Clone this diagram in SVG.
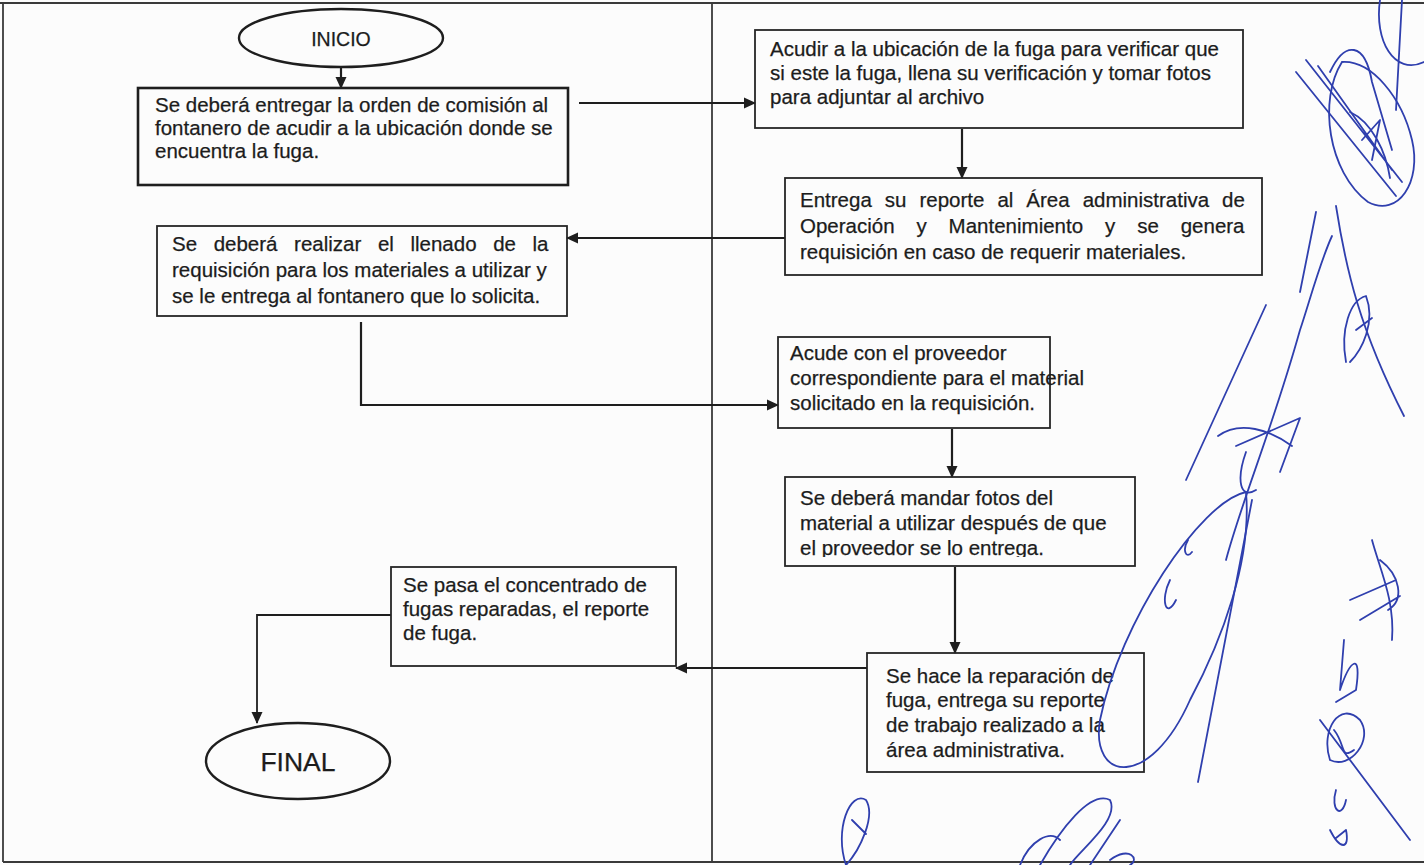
<svg xmlns="http://www.w3.org/2000/svg" width="1424" height="865" viewBox="0 0 1424 865">
<defs>
<style>
.frame{fill:none;stroke:#3a3a3a;stroke-width:1.8}
.box{fill:none;stroke:#262626;stroke-width:1.8}
.boxb{fill:none;stroke:#1e1e1e;stroke-width:2.6}
.term{fill:none;stroke:#1e1e1e;stroke-width:2.4}
.t{font-family:"Liberation Sans",Arial,sans-serif;font-size:20.5px;fill:#1c1c1c;stroke:#1c1c1c;stroke-width:0.25}
.tc{font-family:"Liberation Sans",Arial,sans-serif;fill:#1c1c1c;stroke:#1c1c1c;stroke-width:0.25;text-anchor:middle}
.con{fill:none;stroke:#1e1e1e;stroke-width:2.2}
.sig{fill:none;stroke:#2f3fae;stroke-width:1.8;stroke-linecap:round;stroke-linejoin:round}
</style>
<marker id="ah" viewBox="0 0 12 12" refX="11" refY="6" markerWidth="12" markerHeight="12" markerUnits="userSpaceOnUse" orient="auto">
<path d="M0,0.5 L12,6 L0,11.5 Z" fill="#1e1e1e"/>
</marker>
<clipPath id="clip6"><rect x="785" y="477" width="350" height="80"/></clipPath>
</defs>
<rect x="0" y="0" width="1424" height="865" fill="#fcfcfc"/>
<g id="frame">
<line class="frame" x1="0" y1="3" x2="1424" y2="3"/>
<line class="frame" x1="3" y1="3" x2="3" y2="862"/>
<line class="frame" x1="712" y1="3" x2="712" y2="862"/>
<line class="frame" x1="3" y1="862" x2="1424" y2="862"/>
</g>
<g id="connectors">
<line class="con" x1="341" y1="67" x2="341" y2="88" marker-end="url(#ah)"/>
<line class="con" x1="579" y1="103" x2="755" y2="103" marker-end="url(#ah)"/>
<line class="con" x1="962" y1="129" x2="962" y2="178" marker-end="url(#ah)"/>
<line class="con" x1="785" y1="238" x2="567" y2="238" marker-end="url(#ah)"/>
<polyline class="con" points="361,322 361,405 778,405" marker-end="url(#ah)"/>
<line class="con" x1="952" y1="429" x2="952" y2="477" marker-end="url(#ah)"/>
<line class="con" x1="955" y1="567" x2="955" y2="653" marker-end="url(#ah)"/>
<line class="con" x1="867" y1="668" x2="676" y2="668" marker-end="url(#ah)"/>
<polyline class="con" style="stroke-width:1.8" points="391,615 257,615 257,723" marker-end="url(#ah)"/>
</g>
<g id="inicio">
<ellipse class="term" cx="341" cy="38" rx="102" ry="29"/>
<text class="tc" x="341" y="46" font-size="19.5">INICIO</text>
</g>
<g id="box1">
<rect class="boxb" x="138" y="88" width="430" height="97"/>
<text class="t"><tspan x="155" y="112">Se deberá entregar la orden de comisión al</tspan><tspan x="155" y="135">fontanero de acudir a la ubicación donde se</tspan><tspan x="155" y="158">encuentra la fuga.</tspan></text>
</g>
<g id="box2">
<rect class="box" x="755" y="30" width="488" height="98"/>
<text class="t"><tspan x="770" y="56">Acudir a la ubicación de la fuga para verificar que</tspan><tspan x="770" y="80">si este la fuga, llena su verificación y tomar fotos</tspan><tspan x="770" y="104">para adjuntar al archivo</tspan></text>
</g>
<g id="box3">
<rect class="box" x="785" y="178" width="477" height="97"/>
<text class="t" x="800" y="207" style="word-spacing:7.3px">Entrega su reporte al Área administrativa de</text>
<text class="t" x="800" y="233" style="word-spacing:16.2px">Operación y Mantenimiento y se genera</text>
<text class="t" x="800" y="259">requisición en caso de requerir materiales.</text>
</g>
<g id="box4">
<rect class="box" x="157" y="226" width="410" height="90"/>
<text class="t" x="172" y="251" style="word-spacing:10.9px">Se deberá realizar el llenado de la</text>
<text class="t" x="172" y="277">requisición para los materiales a utilizar y</text>
<text class="t" x="172" y="303">se le entrega al fontanero que lo solicita.</text>
</g>
<g id="box5">
<rect class="box" x="778" y="337" width="272" height="91"/>
<text class="t"><tspan x="790" y="360">Acude con el proveedor</tspan><tspan x="790" y="385">correspondiente para el material</tspan><tspan x="790" y="410">solicitado en la requisición.</tspan></text>
</g>
<g id="box6">
<rect class="box" x="785" y="477" width="350" height="89"/>
<text class="t" clip-path="url(#clip6)"><tspan x="800" y="505">Se deberá mandar fotos del</tspan><tspan x="800" y="530">material a utilizar después de que</tspan><tspan x="800" y="555">el proveedor se lo entrega.</tspan></text>
</g>
<g id="box7">
<rect class="box" x="867" y="653" width="277" height="119"/>
<text class="t"><tspan x="886" y="683">Se hace la reparación de</tspan><tspan x="886" y="707">fuga, entrega su reporte</tspan><tspan x="886" y="732">de trabajo realizado a la</tspan><tspan x="886" y="757">área administrativa.</tspan></text>
</g>
<g id="box8">
<rect class="box" x="391" y="567" width="285" height="99"/>
<text class="t"><tspan x="403" y="592">Se pasa el concentrado de</tspan><tspan x="403" y="616">fugas reparadas, el reporte</tspan><tspan x="403" y="640">de fuga.</tspan></text>
</g>
<g id="final">
<ellipse class="term" cx="298" cy="761" rx="92" ry="38"/>
<text class="tc" x="298" y="771" font-size="26.5">FINAL</text>
</g>
<g id="signatures">
<path class="sig" d="M1342,62 C1318,100 1328,172 1368,202 C1398,218 1422,182 1412,140 C1402,98 1372,60 1342,62"/>
<path class="sig" d="M1296,72 L1396,196 M1306,60 L1402,182 M1318,66 L1392,170"/>
<path class="sig" d="M1380,0 C1374,40 1394,76 1424,62 M1402,0 L1396,110 M1330,72 C1345,40 1365,42 1372,82 L1392,150"/>
<path class="sig" d="M1350,112 C1372,122 1386,152 1390,178 M1362,140 L1380,120 L1372,160"/>
<path class="sig" d="M1186,480 L1266,305 M1226,560 C1242,500 1272,430 1300,330 C1310,300 1320,262 1332,236"/>
<path class="sig" d="M1300,292 L1316,212 M1336,206 C1346,270 1360,330 1404,416"/>
<path class="sig" d="M1346,362 C1340,330 1350,300 1366,296 C1376,322 1362,350 1350,362 M1356,330 L1372,318"/>
<path class="sig" d="M1218,436 C1240,420 1270,430 1292,446 M1236,446 L1300,418 L1280,472 M1246,452 C1236,480 1240,500 1256,490"/>
<path class="sig" d="M1246,492 C1200,502 1120,622 1100,720 C1090,782 1150,790 1190,700 C1222,640 1252,560 1246,492"/>
<path class="sig" d="M1198,782 L1252,500 M1170,580 C1160,600 1166,620 1176,600 M1188,540 C1182,550 1186,560 1192,552"/>
<path class="sig" d="M1372,540 C1380,570 1395,600 1392,640 M1350,600 L1396,580 M1360,620 L1400,596 M1380,560 C1400,575 1405,600 1388,610"/>
<path class="sig" d="M1340,690 C1350,660 1362,650 1356,690 L1336,702 M1344,640 L1340,690"/>
<path class="sig" d="M1330,760 C1320,730 1340,700 1360,720 C1374,740 1350,770 1330,760 M1320,720 L1410,840 M1334,730 C1346,745 1340,760 1354,750"/>
<path class="sig" d="M1336,790 C1330,810 1342,820 1346,800 M1330,830 C1340,850 1350,850 1346,830 L1336,838"/>
<path class="sig" d="M846,865 C834,830 850,790 866,800 C876,816 860,850 846,865 M852,820 L866,834"/>
<path class="sig" d="M1040,865 C1060,830 1090,790 1110,800 C1120,820 1080,850 1070,865 M1090,865 L1120,820 M1110,860 C1130,845 1140,860 1130,865 M1020,865 C1030,840 1050,830 1060,840"/>
</g>
</svg>
